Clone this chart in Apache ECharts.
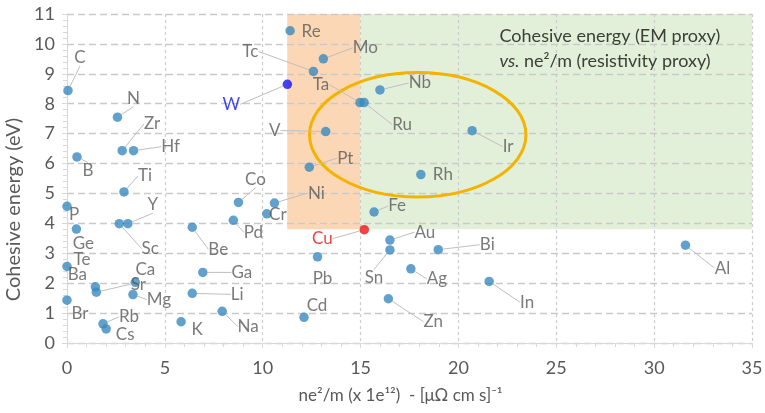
<!DOCTYPE html>
<html>
<head>
<meta charset="utf-8">
<script src="https://cdn.jsdelivr.net/npm/echarts@6/dist/echarts.min.js"></script>
<style>
  html, body { margin: 0; padding: 0; background: #ffffff; }
  #chart { width: 765px; height: 413px; }
</style>
</head>
<body>
<div id="chart"></div>
<script>
// Elements and their two proxies: ne^2/m (x 1e12, [uOhm cm s]^-1) and cohesive energy (eV)
const elements = ['C','N','B','Zr','Hf','Ti','P','Ge','Y','Sc','Te','Ba','Sr','Ca','Mg','Br','Rb','Cs',
  'Be','Ga','Li','K','Na','Pd','Co','Cr','Ni','Re','Mo','Tc','Ta','Ru','W','V','Nb','Pt','Ir','Rh',
  'Fe','Cu','Au','Sn','Bi','Pb','Ag','In','Cd','Zn','Al'];
const ne2m = [0.05, 2.58, 0.51, 2.82, 3.40, 2.91, 0.0, 0.48, 3.11, 2.67, 0.0, 1.45, 1.50, 3.49, 3.37, 0.0, 1.84, 2.00,
  6.40, 6.94, 6.40, 5.83, 7.93, 8.50, 8.76, 10.21, 10.60, 11.40, 13.10, 12.59, 14.97, 15.18, 11.26, 13.22, 15.99, 12.38, 20.70, 18.08,
  15.69, 15.19, 16.50, 16.50, 18.97, 12.80, 17.57, 21.57, 12.11, 16.42, 31.60];
const cohesive = [8.44, 7.55, 6.22, 6.43, 6.43, 5.05, 4.57, 3.81, 3.99, 3.99, 2.56, 1.88, 1.70, 2.03, 1.62, 1.43, 0.64, 0.47,
  3.87, 2.36, 1.66, 0.71, 1.06, 4.10, 4.70, 4.32, 4.68, 10.44, 9.50, 9.08, 8.04, 8.04, 8.65, 7.07, 8.46, 5.88, 7.10, 5.63,
  4.38, 3.79, 3.44, 3.11, 3.12, 2.88, 2.48, 2.06, 0.86, 1.48, 3.27];

// Axis ranges
const xRange = [0, 35, 5];
const yRange = [0, 11, 1];

// Shaded bands [x0, x1, y0, y1] and the highlighted cluster ellipse [cx, cy, rx, ry] in data units
const bandBounds = [[11.25, 15, 3.8, 11], [15, 35, 3.8, 11]];
const bandColors = ['#FCD7B6', '#E3F0D9'];
const clusterEllipse = [17.92, 6.96, 5.53, 2.08];
const noteAnchor = [22.1, 10.66];

// Label placement (pixel offset of label centre from its point); false = no leader line
const labelOffsets = {
  C:[12,-33], N:[16,-19], B:[11,14], Zr:[30,-27], Hf:[37,-4], Ti:[21,-16], P:[7,8,false], Ge:[7,14,false],
  Y:[25,-19], Sc:[31,25], Te:[15,-7,false], Ba:[-18,-12,false], Sr:[42,-8], Ca:[10,-13,false], Mg:[26,5],
  Br:[13,13,false], Rb:[26,-7], Cs:[19,6,false], Be:[26,22], Ga:[39,0], Li:[45,1], K:[16,8,false], Na:[26,15],
  Pd:[20,12], Co:[17,-23], Cr:[11,1,false], Ni:[42,-10], Re:[21,1,false], Mo:[42,-11], Tc:[-63,-20], Ta:[-39,-18],
  Ru:[38,22], W:[-56,20], V:[-51,-1], Nb:[40,-7], Pt:[36,-9], Ir:[36,16], Rh:[22,0,false], Fe:[23,-6],
  Cu:[-42,9], Au:[35,-8], Sn:[-16,28], Bi:[49,-5], Pb:[5,22,false], Ag:[26,10], In:[38,21], Cd:[13,-12,false],
  Zn:[45,23], Al:[37,23]
};
const specialColors = { W: '#1414F5', Cu: '#F01414' };

const FONT = 'Lato, "Open Sans", sans-serif';
const GREY = '#595959';
const POINT = '#3A89BF';

const scatterData = elements.map((name, i) => {
  const item = { name: name, value: [ne2m[i], cohesive[i]] };
  const c = specialColors[name];
  if (c) {
    item.itemStyle = { color: c };
    item.label = { color: c };
  }
  const off = labelOffsets[name];
  if (off && off[2] === false) item.labelLine = { show: false };
  return item;
});

const chart = echarts.init(document.getElementById('chart'), null, { renderer: 'canvas' });

const axisCommon = {
  axisLine: { show: true, lineStyle: { color: '#D9D9D9', width: 1 } },
  axisTick: { show: true, inside: false, length: 5, lineStyle: { color: '#D9D9D9' } },
  minorTick: { show: true, splitNumber: 5, length: 4, lineStyle: { color: '#D9D9D9' } }
};

chart.setOption({
  animation: false,
  backgroundColor: '#ffffff',
  grid: { left: 67, right: 13, top: 14, bottom: 70, containLabel: false, outerBoundsMode: 'none' },
  xAxis: Object.assign({}, axisCommon, {
    type: 'value', min: xRange[0], max: xRange[1], interval: xRange[2],
    name: 'ne²/m (x 1e¹²)  - [μΩ cm s]⁻¹', nameLocation: 'middle', nameGap: 44,
    nameTextStyle: { color: GREY, fontFamily: FONT, fontSize: 17, padding: [0, 18, 0, 0] },
    axisLabel: { color: GREY, fontFamily: FONT, fontSize: 18, margin: 16 },
    splitLine: { show: true, lineStyle: { color: '#CDCDCD', type: [3, 3], width: 1.2 } }
  }),
  yAxis: Object.assign({}, axisCommon, {
    type: 'value', min: yRange[0], max: yRange[1], interval: yRange[2],
    name: 'Cohesive energy (eV)', nameLocation: 'middle', nameGap: 24,
    nameTextStyle: { color: GREY, fontFamily: FONT, fontSize: 20, padding: [0, 62, 0, 0] },
    axisLabel: { color: GREY, fontFamily: FONT, fontSize: 18, margin: 12 },
    splitLine: { show: true, lineStyle: { color: '#C9C9C9', type: [7, 4], width: 1.3 } }
  }),
  series: [
    {
      // shaded proxy bands behind the grid lines
      type: 'custom', z: -1, silent: true,
      data: bandBounds,
      renderItem: function (params, api) {
        const p0 = api.coord([api.value(0), api.value(3)]);
        const p1 = api.coord([api.value(1), api.value(2)]);
        return {
          type: 'rect',
          shape: { x: p0[0], y: p0[1], width: p1[0] - p0[0], height: p1[1] - p0[1] },
          style: { fill: bandColors[params.dataIndex] }
        };
      }
    },
    {
      // cluster ring
      type: 'custom', z: 1, silent: true,
      data: [clusterEllipse],
      renderItem: function (params, api) {
        const c = api.coord([api.value(0), api.value(1)]);
        const s = api.size([api.value(2), api.value(3)]);
        return {
          type: 'ellipse',
          shape: { cx: c[0], cy: c[1], rx: s[0], ry: s[1] },
          style: { fill: 'none', stroke: '#F3B300', lineWidth: 3 }
        };
      }
    },
    {
      // caption in the green band
      type: 'custom', z: 1, silent: true,
      data: [noteAnchor],
      renderItem: function (params, api) {
        const p = api.coord([api.value(0), api.value(1)]);
        return {
          type: 'text',
          x: p[0], y: p[1],
          style: {
            text: 'Cohesive energy (EM proxy)\n{i|vs.} ne²/m (resistivity proxy)',
            fill: '#3B3F35',
            font: '18px ' + FONT,
            lineHeight: 25,
            align: 'left', verticalAlign: 'top',
            rich: { i: { fontStyle: 'italic', fontSize: 18, fontFamily: 'Lato', fill: '#3B3F35', lineHeight: 25 } }
          }
        };
      }
    },
    {
      type: 'scatter', z: 3,
      symbol: 'circle', symbolSize: 9.5,
      itemStyle: { color: POINT },
      data: scatterData,
      label: {
        show: true, position: 'inside', formatter: '{b}',
        color: GREY, fontFamily: FONT, fontSize: 17,
        align: 'center', verticalAlign: 'middle'
      },
      labelLine: { show: true, length2: 0, lineStyle: { color: '#BFBFBF', width: 1 } },
      labelLayout: function (params) {
        const off = labelOffsets[elements[params.dataIndex]] || [15, 0];
        return { dx: off[0], dy: off[1] };
      }
    }
  ]
});
</script>
</body>
</html>
